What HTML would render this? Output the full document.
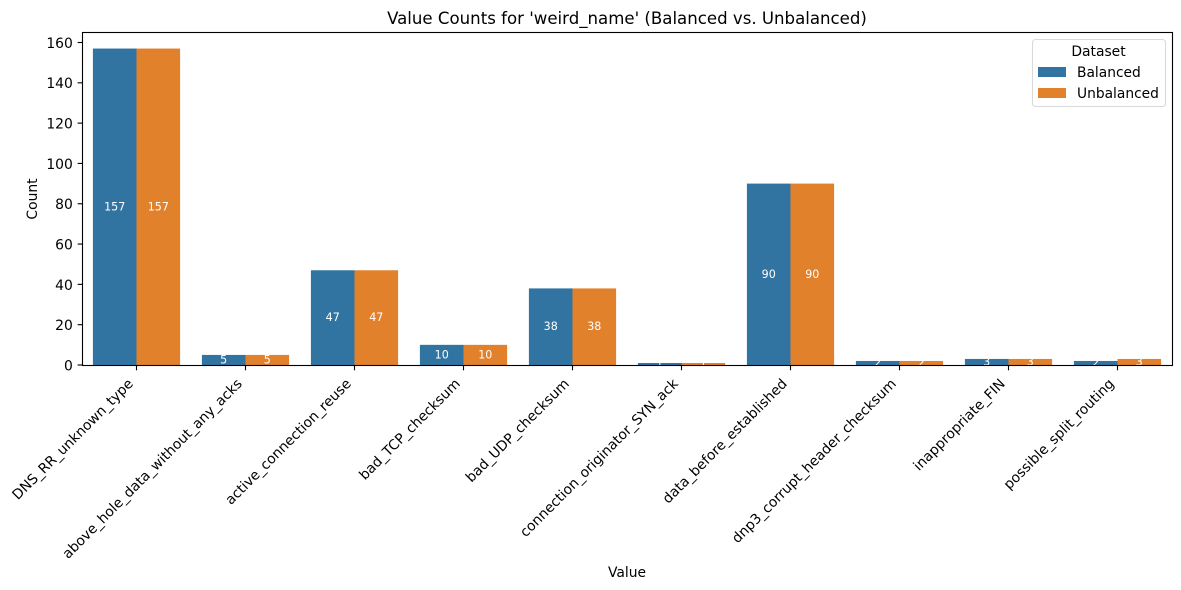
<!DOCTYPE html>
<html lang="en">
<head>
<meta charset="utf-8">
<title>Value Counts for 'weird_name'</title>
<style>
html,body{margin:0;padding:0;background:#fff;}
svg{display:block;font-family:"DejaVu Sans","Liberation Sans",sans-serif;}
</style>
</head>
<body>
<svg id="chart" xmlns="http://www.w3.org/2000/svg" width="1181" height="590" viewBox="0 0 1181 590">
  <rect x="0" y="0" width="1181" height="590" fill="#fff"/>
  <text x="627" y="24" font-size="16.6" text-anchor="middle" fill="#000">Value Counts for 'weird_name' (Balanced vs. Unbalanced)</text>
  <g id="bars"></g>
  <g id="bar-labels"></g>
  <g id="y-axis"></g>
  <g id="x-axis"></g>
  <text transform="translate(37,199) rotate(-90)" font-size="13.89" text-anchor="middle" fill="#000">Count</text>
  <text x="627" y="577" font-size="13.89" text-anchor="middle" fill="#000">Value</text>
  <rect x="82.5" y="32.5" width="1090" height="333" fill="none" stroke="#000" stroke-width="1.11"/>
  <g>
    <rect x="1032.5" y="39.5" width="133" height="67" rx="3" fill="#fff" fill-opacity="0.8" stroke="#d9d9d9" stroke-width="1.11"/>
    <text x="1098.5" y="56" font-size="13.89" text-anchor="middle" fill="#000">Dataset</text>
    <rect x="1038" y="67" width="28" height="10" fill="#3274a1"/>
    <text x="1077" y="77" font-size="13.8" fill="#000">Balanced</text>
    <rect x="1038" y="88" width="28" height="10" fill="#e1812c"/>
    <text x="1077" y="98" font-size="13.8" fill="#000">Unbalanced</text>
  </g>
</svg>
<script>
const categories = ["DNS_RR_unknown_type","above_hole_data_without_any_acks","active_connection_reuse","bad_TCP_checksum","bad_UDP_checksum","connection_originator_SYN_ack","data_before_established","dnp3_corrupt_header_checksum","inappropriate_FIN","possible_split_routing"];
const balancedValues = [157,5,47,10,38,1,90,2,3,2];
const unbalancedValues = [157,5,47,10,38,1,90,2,3,3];
const yTickLabels = [0,20,40,60,80,100,120,140,160];

const NS = "http://www.w3.org/2000/svg";
const plotLeft = 82, plotBottom = 365, bandWidth = 109, unitHeight = 2.0156, barWidth = 43.6;
function xScale(i) { return plotLeft + (i + 0.5) * bandWidth; }
function yScale(v) { return plotBottom - v * unitHeight; }

function make(tag, attrs, parent, text) {
  const el = document.createElementNS(NS, tag);
  for (const k in attrs) el.setAttribute(k, attrs[k]);
  if (text !== undefined) el.textContent = text;
  parent.appendChild(el);
  return el;
}

const barsGroup = document.getElementById("bars");
const labelsGroup = document.getElementById("bar-labels");
const yAxis = document.getElementById("y-axis");
const xAxis = document.getElementById("x-axis");

function drawSeries(values, color, offset, seriesName) {
  values.forEach(function (v, i) {
    const x = xScale(i) + offset;
    const bar = make("rect", { x: x, y: yScale(v), width: barWidth, height: plotBottom - yScale(v), fill: color }, barsGroup);
    
    
    const label = make("text", { x: x + barWidth / 2, y: yScale(v / 2) + 3.5, "font-size": 11.11, "text-anchor": "middle", fill: "#fff" }, labelsGroup, String(v));
    
    
  });
}
drawSeries(balancedValues, "#3274a1", -barWidth, "balanced");
drawSeries(unbalancedValues, "#e1812c", 0, "unbalanced");

yTickLabels.forEach(function (t) {
  const y = yScale(t);
  const tick = make("line", { x1: plotLeft + 0.5 - 4.86, x2: plotLeft + 0.5, y1: y, y2: y, stroke: "#000", "stroke-width": 1.11 }, yAxis);
  
  
  const label = make("text", { x: plotLeft - 9.2, y: y + 5.4, "font-size": 13.89, "text-anchor": "end", fill: "#000" }, yAxis, String(t));
  
  
});

categories.forEach(function (c, i) {
  const x = xScale(i);
  const tick = make("line", { x1: x, x2: x, y1: plotBottom, y2: plotBottom + 5.3, stroke: "#000", "stroke-width": 1.11 }, xAxis);
  
  
  const label = make("text", { transform: "translate(" + (x - 2.6) + ",384.5) rotate(-45)", "font-size": 13.89, "text-anchor": "end", fill: "#000" }, xAxis, c);
  
  
});
</script>
</body>
</html>
